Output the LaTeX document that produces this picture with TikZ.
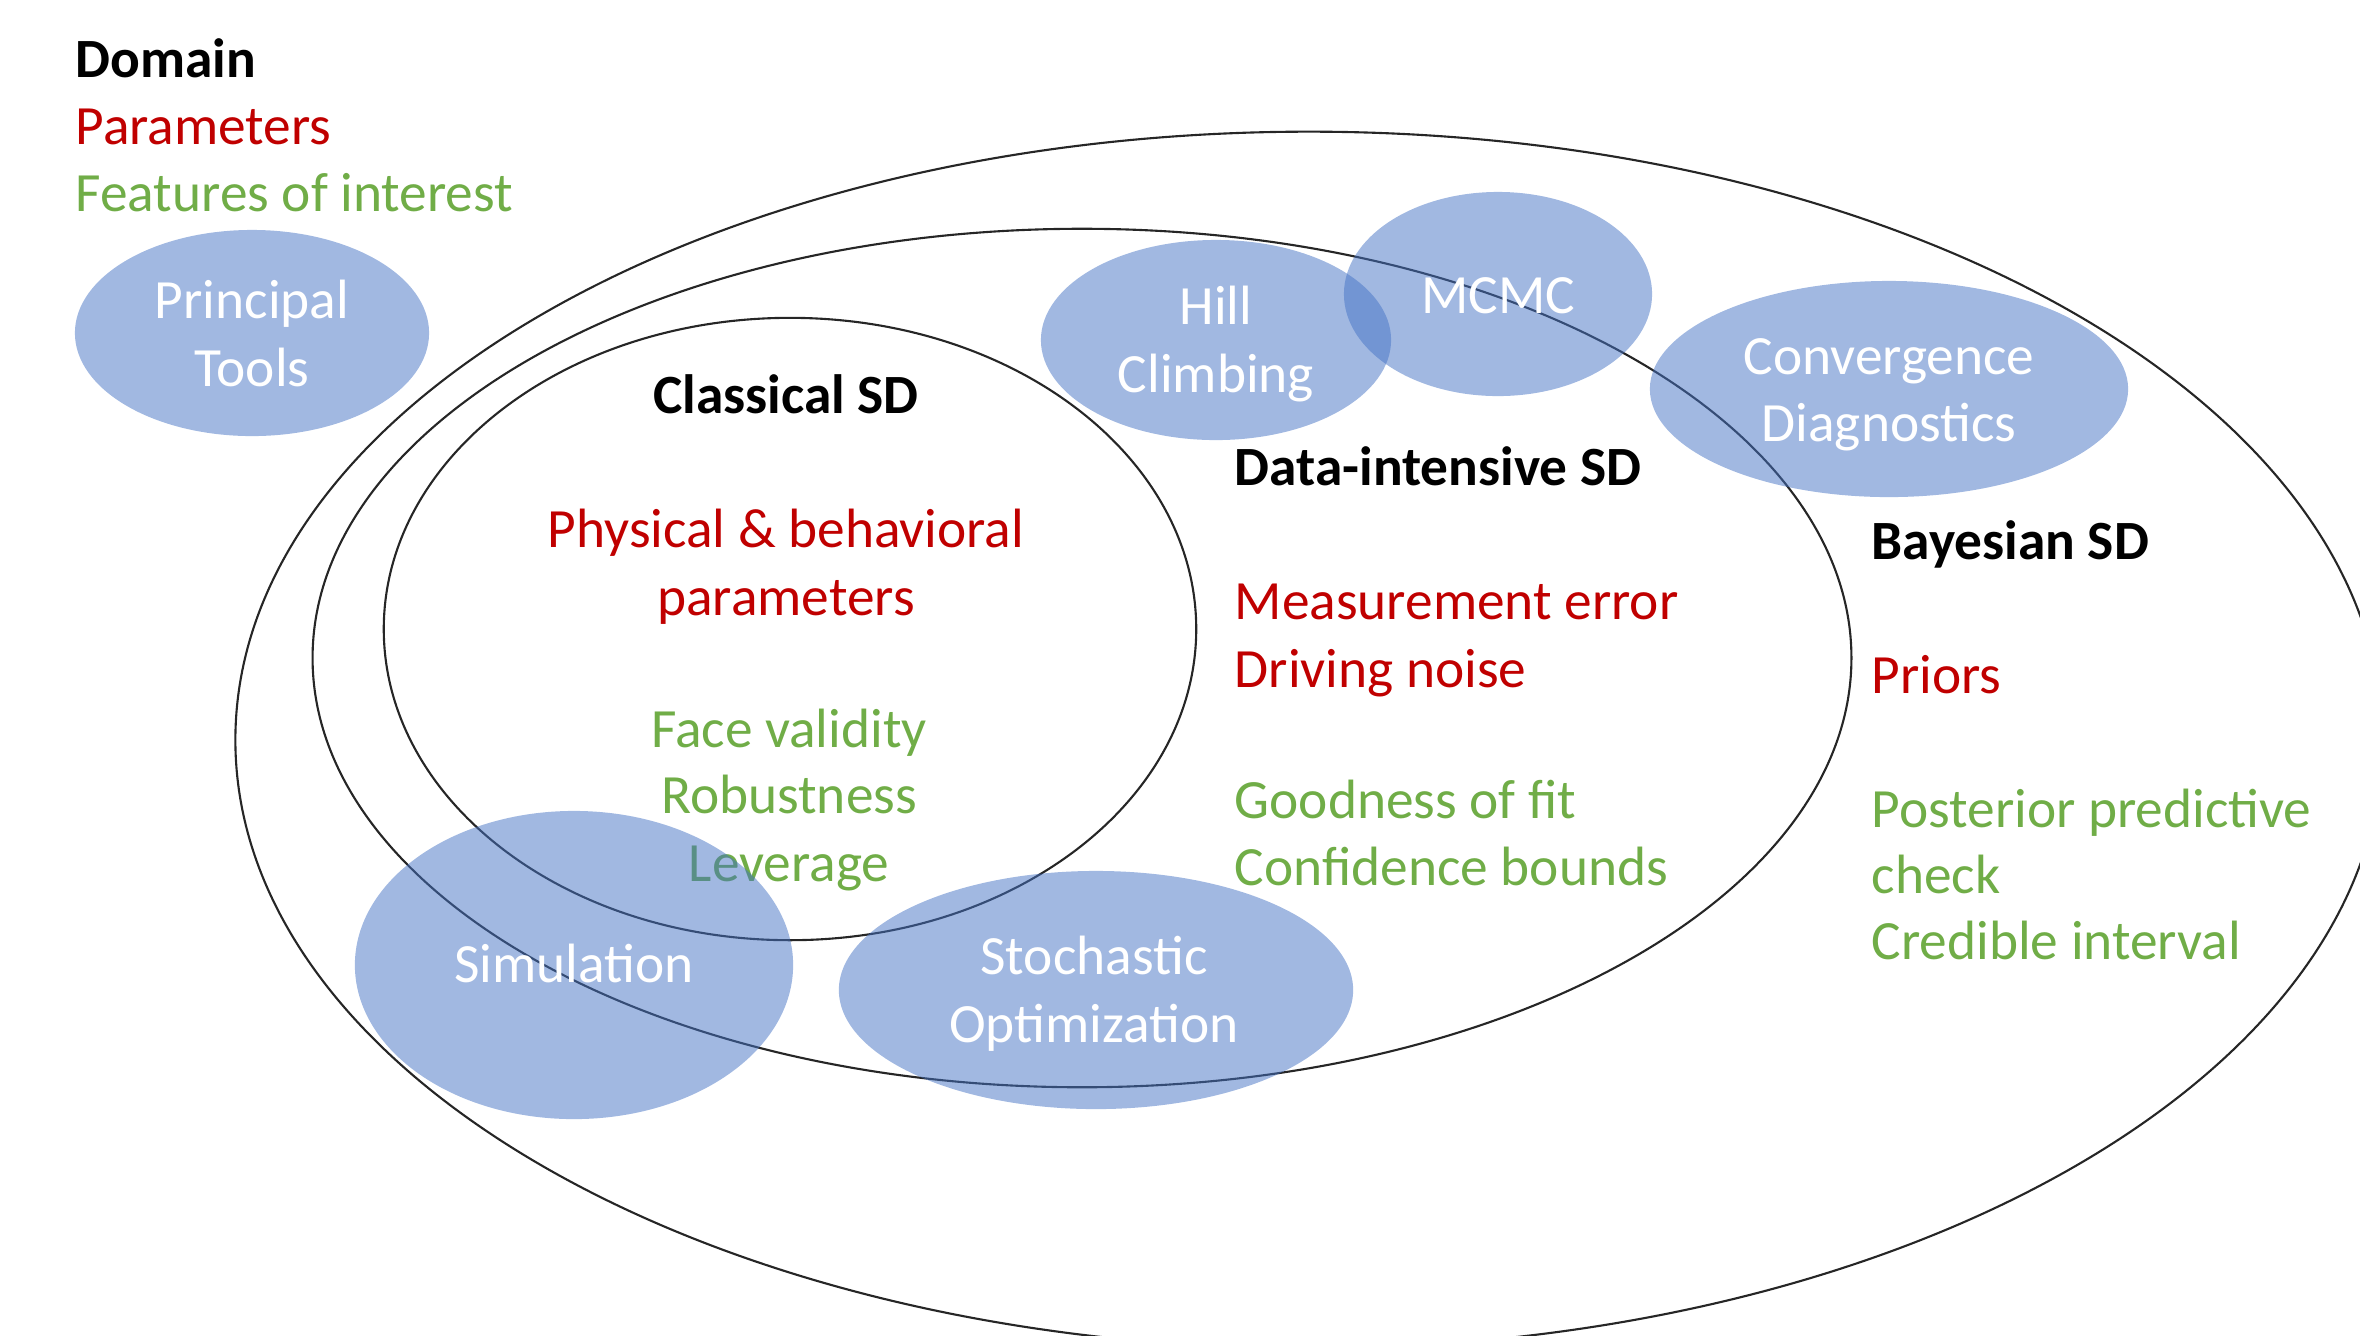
\documentclass[tikz,border=0pt]{standalone}
\usepackage{fontspec}
\setmainfont{Carlito}
\usetikzlibrary{shapes.geometric}
\definecolor{redT}{HTML}{C00000}
\definecolor{greenT}{HTML}{70AD47}
\definecolor{blueF}{HTML}{4472C4}
\begin{document}
\begin{tikzpicture}[x=0.01cm,y=-0.01cm,
  every node/.style={font=\fontsize{15.75pt}{19.2pt}\selectfont, inner sep=0pt},
  ring/.style={draw=black!85, line width=0.6pt, ellipse, inner sep=0pt},
  tool/.style={ellipse, fill=blueF, fill opacity=0.5, inner sep=0pt},
  tooltxt/.style={anchor=base, text=white},
  lbl/.style={anchor=base west},
  clbl/.style={anchor=base},
  hd/.style={font=\fontsize{15.75pt}{19.2pt}\selectfont\bfseries},
  red/.style={text=redT},
  grn/.style={text=greenT}
]
\useasboundingbox (0,0) rectangle (2360,1335);
\clip (0,0) rectangle (2360,1335);

% nested domains
\node[ring, minimum width=21.46cm, minimum height=12.16cm] (bayes) at (1309,740) {};
\node[ring, minimum width=15.38cm, minimum height=8.58cm] (data) at (1082,658) {};
\node[ring, minimum width=8.12cm, minimum height=6.22cm] (classical) at (790,629) {};

% legend
\node[hd, lbl] (domain) at (75,77) {Domain};
\node[lbl, red] (params) at (75,144) {Parameters};
\node[lbl, grn] (feat) at (75,211) {Features of interest};

% classical SD
\node[hd, clbl] (csd) at (786,413) {Classical SD};
\node[clbl, red] (cp1) at (786,547) {Physical \& behavioral};
\node[clbl, red] (cp2) at (786,615) {parameters};
\node[clbl, grn] (cf1) at (789,747) {Face validity};
\node[clbl, grn] (cf2) at (789,813) {Robustness};
\node[clbl, grn] (cf3) at (789,881) {Leverage};

% data-intensive SD
\node[hd, lbl] (dsd) at (1234,485) {Data-intensive SD};
\node[lbl, red] (dp1) at (1234,619) {Measurement error};
\node[lbl, red] (dp2) at (1234,687) {Driving noise};
\node[lbl, grn] (df1) at (1234,818) {Goodness of fit};
\node[lbl, grn] (df2) at (1234,885) {Confidence bounds};

% Bayesian SD
\node[hd, lbl] (bsd) at (1871,559) {Bayesian SD};
\node[lbl, red] (bp1) at (1871,693) {Priors};
\node[lbl, grn] (bf1) at (1871,827) {Posterior predictive};
\node[lbl, grn] (bf2) at (1871,893) {check};
\node[lbl, grn] (bf3) at (1871,959) {Credible interval};

% tools
\node[tool, minimum width=3.54cm, minimum height=2.06cm] (pt) at (252,333) {};
\node[tool, minimum width=3.50cm, minimum height=2.00cm] (hill) at (1216,340) {};
\node[tool, minimum width=3.08cm, minimum height=2.04cm] (mcmc) at (1498,294) {};
\node[tool, minimum width=4.78cm, minimum height=2.16cm] (conv) at (1889,389) {};
\node[tool, minimum width=4.38cm, minimum height=3.08cm] (sim) at (574,965) {};
\node[tool, minimum width=5.14cm, minimum height=2.38cm] (stoch) at (1096,990) {};

\node[tooltxt] (ptA) at (252,318) {Principal};
\node[tooltxt] (ptB) at (252,386) {Tools};
\node[tooltxt] (hillA) at (1216,324) {Hill};
\node[tooltxt] (hillB) at (1216,392) {Climbing};
\node[tooltxt] (mcmcA) at (1498,313) {MCMC};
\node[tooltxt] (convA) at (1889,374) {Convergence};
\node[tooltxt] (convB) at (1889,441) {Diagnostics};
\node[tooltxt] (simA) at (574,982) {Simulation};
\node[tooltxt] (stochA) at (1094,974) {Stochastic};
\node[tooltxt] (stochB) at (1094,1042) {Optimization};
\end{tikzpicture}
\end{document}
